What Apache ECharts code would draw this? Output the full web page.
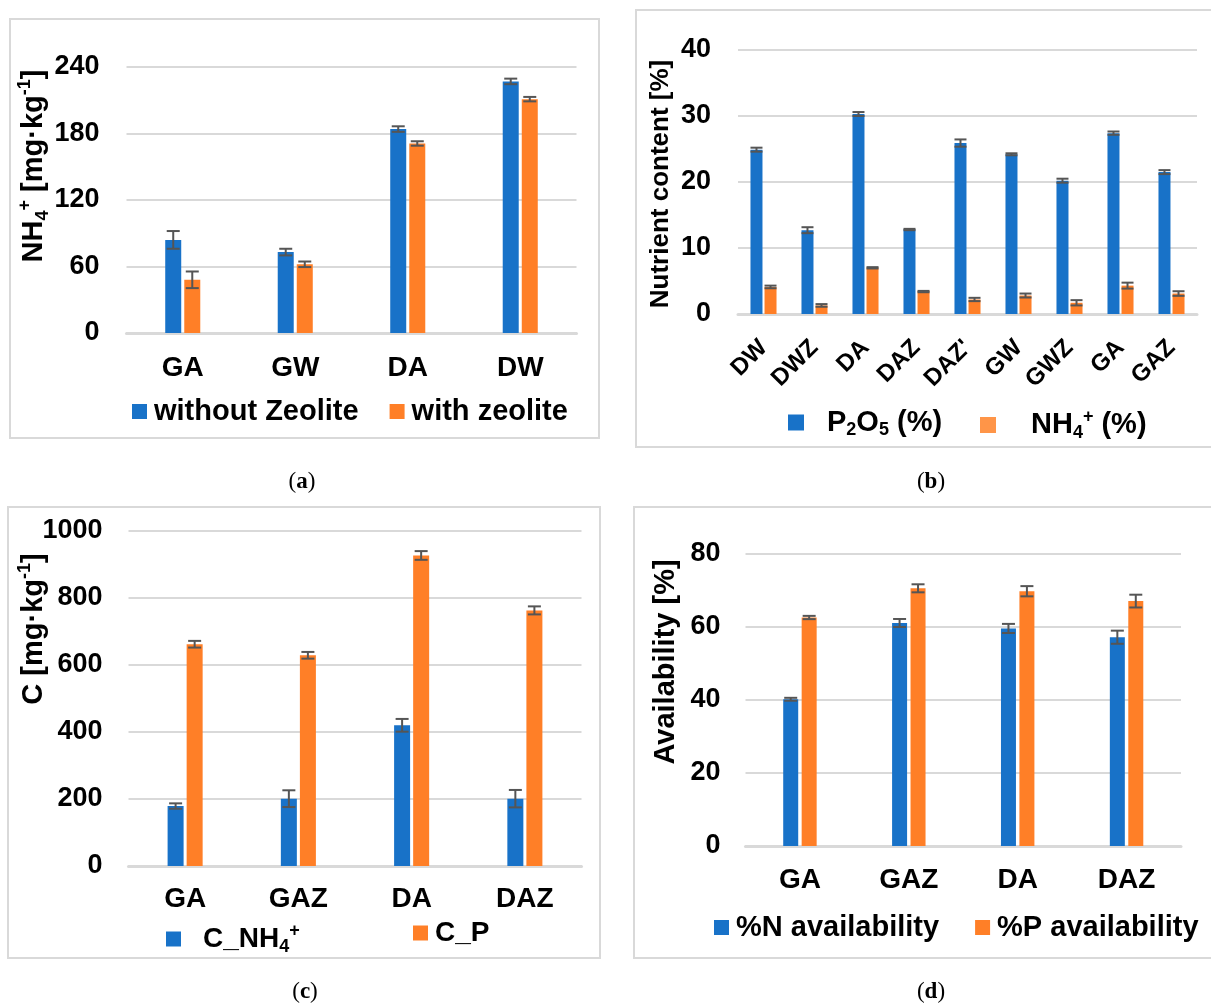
<!DOCTYPE html>
<html>
<head>
<meta charset="utf-8">
<script src="https://cdn.jsdelivr.net/npm/echarts@6/dist/echarts.min.js"></script>
<style>html,body{margin:0;padding:0;background:#fff}#c{width:1211px;height:1007px}</style>
</head>
<body>
<div id="c"></div>
<script>
// ---- Panel (a) ----
const catsA = ['GA', 'GW', 'DA', 'DW'];
const aWithout = [84, 73, 184, 227];
const aWithoutErr = [8, 3, 2.5, 2.5];
const aWith = [48, 62, 171, 211];
const aWithErr = [7.5, 2.5, 2, 2];
const ticksA = {min: 0, max: 240, interval: 60};

// ---- Panel (b) ----
const catsB = ['DW', 'DWZ', 'DA', 'DAZ', "DAZ'", 'GW', 'GWZ', 'GA', 'GAZ'];
const bP2O5 = [24.9, 12.7, 30.3, 12.8, 25.9, 24.2, 20.2, 27.4, 21.5];
const bP2O5Err = [0.3, 0.45, 0.3, 0.1, 0.55, 0.15, 0.3, 0.25, 0.3];
const bNH4 = [4.1, 1.3, 7.0, 3.4, 2.2, 2.8, 1.7, 4.3, 3.1];
const bNH4Err = [0.2, 0.2, 0.1, 0.1, 0.25, 0.3, 0.4, 0.45, 0.35];
const ticksB = {min: 0, max: 40, interval: 10};

// ---- Panel (c) ----
const catsC = ['GA', 'GAZ', 'DA', 'DAZ'];
const cNH4 = [179, 201, 420, 201];
const cNH4Err = [8, 25, 19, 26];
const cP = [662, 629, 927, 763];
const cPErr = [10, 10, 13, 12];
const ticksC = {min: 0, max: 1000, interval: 200};

// ---- Panel (d) ----
const catsD = ['GA', 'GAZ', 'DA', 'DAZ'];
const dN = [40.2, 61.1, 59.6, 57.2];
const dNErr = [0.4, 1.1, 1.25, 1.8];
const dP = [62.6, 70.6, 69.8, 67.1];
const dPErr = [0.45, 1.1, 1.4, 1.75];
const ticksD = {min: 0, max: 80, interval: 20};

const BLUE = '#1872C8', ORANGE = '#FF7F27', ORANGE_LIGHT = '#FF9548', GRIDC = '#D9D9D9', ERR = '#555555';
const FONT = '"Liberation Sans", Arial, Helvetica, sans-serif';
const SERIF = '"Liberation Serif", "DejaVu Serif", Times, serif';

const chart = echarts.init(document.getElementById('c'), null, {renderer: 'canvas'});

function errRender(dx, hw) {
  return function (params, api) {
    const i = api.value(0);
    const lo = api.coord([i, api.value(1)]);
    const hi = api.coord([i, api.value(2)]);
    const cx = lo[0] + dx;
    const st = {stroke: ERR, lineWidth: 2};
    return {type: 'group', children: [
      {type: 'line', shape: {x1: cx, y1: hi[1], x2: cx, y2: lo[1]}, style: st},
      {type: 'line', shape: {x1: cx - hw, y1: hi[1], x2: cx + hw, y2: hi[1]}, style: st},
      {type: 'line', shape: {x1: cx - hw, y1: lo[1], x2: cx + hw, y2: lo[1]}, style: st}
    ]};
  };
}
function errData(vals, errs) { return vals.map((v, k) => [k, v - errs[k], v + errs[k]]); }

const panels = [
  {grid: {left: 126.5, top: 67, width: 450, height: 266}, cats: catsA, ticks: ticksA, bw: 16, gap: 0.19, hw: 6.5, yMargin: 27,
   s: [['without Zeolite', aWithout, aWithoutErr, BLUE], ['with zeolite', aWith, aWithErr, ORANGE]], rotate: 0, xMargin: 21, xFont: 28},
  {grid: {left: 738, top: 50, width: 459, height: 264}, cats: catsB, ticks: ticksB, bw: 12, gap: 0.17, hw: 6, yMargin: 27,
   s: [['P2O5 (%)', bP2O5, bP2O5Err, BLUE], ['NH4+ (%)', bNH4, bNH4Err, ORANGE]], rotate: 45, xMargin: 30, xFont: 24},
  {grid: {left: 128.5, top: 531, width: 453, height: 335}, cats: catsC, ticks: ticksC, bw: 16, gap: 0.19, hw: 6.5, yMargin: 26,
   s: [['C_NH4+', cNH4, cNH4Err, BLUE], ['C_P', cP, cPErr, ORANGE]], rotate: 0, xMargin: 19, xFont: 28},
  {grid: {left: 745.5, top: 554, width: 435.5, height: 292}, cats: catsD, ticks: ticksD, bw: 15, gap: 0.23, hw: 6.5, yMargin: 25,
   s: [['%N availability', dN, dNErr, BLUE], ['%P availability', dP, dPErr, ORANGE]], rotate: 0, xMargin: 20, xFont: 28}
];

const grids = [], xAxes = [], yAxes = [], series = [];
panels.forEach((p, i) => {
  grids.push(Object.assign({containLabel: false, outerBoundsMode: 'none'}, p.grid));
  xAxes.push({type: 'category', gridIndex: i, data: p.cats,
    axisLine: {show: true, lineStyle: {color: GRIDC, width: 3}}, axisTick: {show: false},
    axisLabel: {interval: 0, rotate: p.rotate, margin: p.xMargin, color: '#000', fontSize: p.xFont, fontWeight: 'bold', fontFamily: FONT},
    splitLine: {show: false}});
  yAxes.push({type: 'value', gridIndex: i, min: p.ticks.min, max: p.ticks.max, interval: p.ticks.interval,
    axisLine: {show: false}, axisTick: {show: false},
    axisLabel: {margin: p.yMargin, color: '#000', fontSize: 27, fontWeight: 'bold', fontFamily: FONT, formatter: (v) => String(v)},
    splitLine: {show: true, lineStyle: {color: GRIDC, width: 2}}});
  const off = p.bw * (1 + p.gap) / 2;
  p.s.forEach((s) => {
    series.push({type: 'bar', name: s[0], xAxisIndex: i, yAxisIndex: i, data: s[1], barWidth: p.bw,
      barGap: (p.gap * 100) + '%', itemStyle: {color: s[3]}, z: 2, silent: true});
  });
  p.s.forEach((s, k) => {
    series.push({type: 'custom', xAxisIndex: i, yAxisIndex: i, data: errData(s[1], s[2]),
      encode: {x: 0, y: [1, 2]}, renderItem: errRender(k === 0 ? -off : off, p.hw), z: 5, silent: true});
  });
});

const legBase = {orient: 'horizontal', padding: 0, icon: 'rect', selectedMode: false,
  textStyle: {color: '#000', fontWeight: 'bold', fontFamily: FONT}};
function leg(o) { return Object.assign({}, legBase, o, {textStyle: Object.assign({}, legBase.textStyle, o.textStyle || {})}); }

const subRich = (fs) => ({
  m: {fontSize: fs.m, fontWeight: 'bold', fontFamily: FONT, color: '#000', lineHeight: fs.lh},
  s: {fontSize: fs.s, fontWeight: 'bold', fontFamily: FONT, color: '#000', verticalAlign: 'bottom', lineHeight: fs.s + 2},
  u: {fontSize: fs.s, fontWeight: 'bold', fontFamily: FONT, color: '#000', verticalAlign: 'top', lineHeight: fs.s + 2}
});

const legends = [
  leg({data: ['without Zeolite', 'with zeolite'], left: 132, top: 397, itemWidth: 15, itemHeight: 15, itemGap: 31,
       textStyle: {fontSize: 29, padding: [0, 0, 0, 2]}}),
  leg({data: [{name: 'P2O5 (%)', itemStyle: {color: BLUE}}], left: 788, top: 408, itemWidth: 16, itemHeight: 16,
       formatter: () => '{m|P}{s|2}{m|O}{s|5}{m| (%)}', textStyle: {padding: [0, 0, 0, 18], rich: subRich({m: 29, s: 18, lh: 34})}}),
  leg({data: [{name: 'NH4+ (%)', itemStyle: {color: ORANGE_LIGHT}}], left: 980, top: 408, itemWidth: 16, itemHeight: 16,
       formatter: () => '{m|NH}{s|4}{u|+}{m| (%)}', textStyle: {padding: [0, 0, 0, 30], rich: subRich({m: 29, s: 18, lh: 34})}}),
  leg({data: ['C_NH4+'], left: 166, top: 922, itemWidth: 15, itemHeight: 15,
       formatter: () => '{m|C_NH}{s|4}{u|+}', textStyle: {padding: [0, 0, 0, 17], rich: subRich({m: 28, s: 18, lh: 34})}}),
  leg({data: ['C_P'], left: 413, top: 919, itemWidth: 15, itemHeight: 15, textStyle: {fontSize: 28, padding: [0, 0, 0, 2]}}),
  leg({data: ['%N availability', '%P availability'], left: 714, top: 913, itemWidth: 15, itemHeight: 15, itemGap: 36,
       textStyle: {fontSize: 29, padding: [0, 0, 0, 2]}})
];

function vtext(x, y, text, rich) {
  return {type: 'text', x: x, y: y, rotation: Math.PI / 2,
    style: {text: text, rich: rich, align: 'center', verticalAlign: 'middle', fill: '#000'}};
}
function caption(x, y, letter) {
  return {type: 'text', x: x, y: y, style: {text: '{p|(}{b|' + letter + '}{p|)}', align: 'center', verticalAlign: 'middle',
    rich: {p: {fontSize: 23, fontFamily: SERIF, color: '#000'}, b: {fontSize: 23, fontFamily: SERIF, fontWeight: 'bold', color: '#000'}}}};
}
function box(x, y, w, h) {
  return {type: 'rect', shape: {x: x, y: y, width: w, height: h}, style: {fill: null, stroke: GRIDC, lineWidth: 2}, silent: true, z: -1};
}
const axisRich = subRich({m: 29, s: 18, lh: 36});
const axisRichB = subRich({m: 26, s: 16, lh: 32});

const graphics = [
  box(10, 19, 589, 419), box(636, 10, 600, 437), box(8, 507, 592, 451), box(634, 507, 600, 451),
  vtext(34, 166, '{m|NH}{s|4}{u|+}{m| [mg·kg}{u|-1}{m|]}', axisRich),
  vtext(661, 184, '{m|Nutrient content [%]}', axisRichB),
  vtext(34, 629, '{m|C [mg·kg}{u|-1}{m|]}', axisRich),
  vtext(666, 662, '{m|Availability [%]}', axisRich),
  caption(302, 482, 'a'), caption(931, 482, 'b'), caption(305, 992, 'c'), caption(931, 992, 'd')
];

chart.setOption({
  animation: false,
  backgroundColor: '#fff',
  grid: grids, xAxis: xAxes, yAxis: yAxes, series: series,
  legend: legends,
  graphic: graphics
});
</script>
</body>
</html>
